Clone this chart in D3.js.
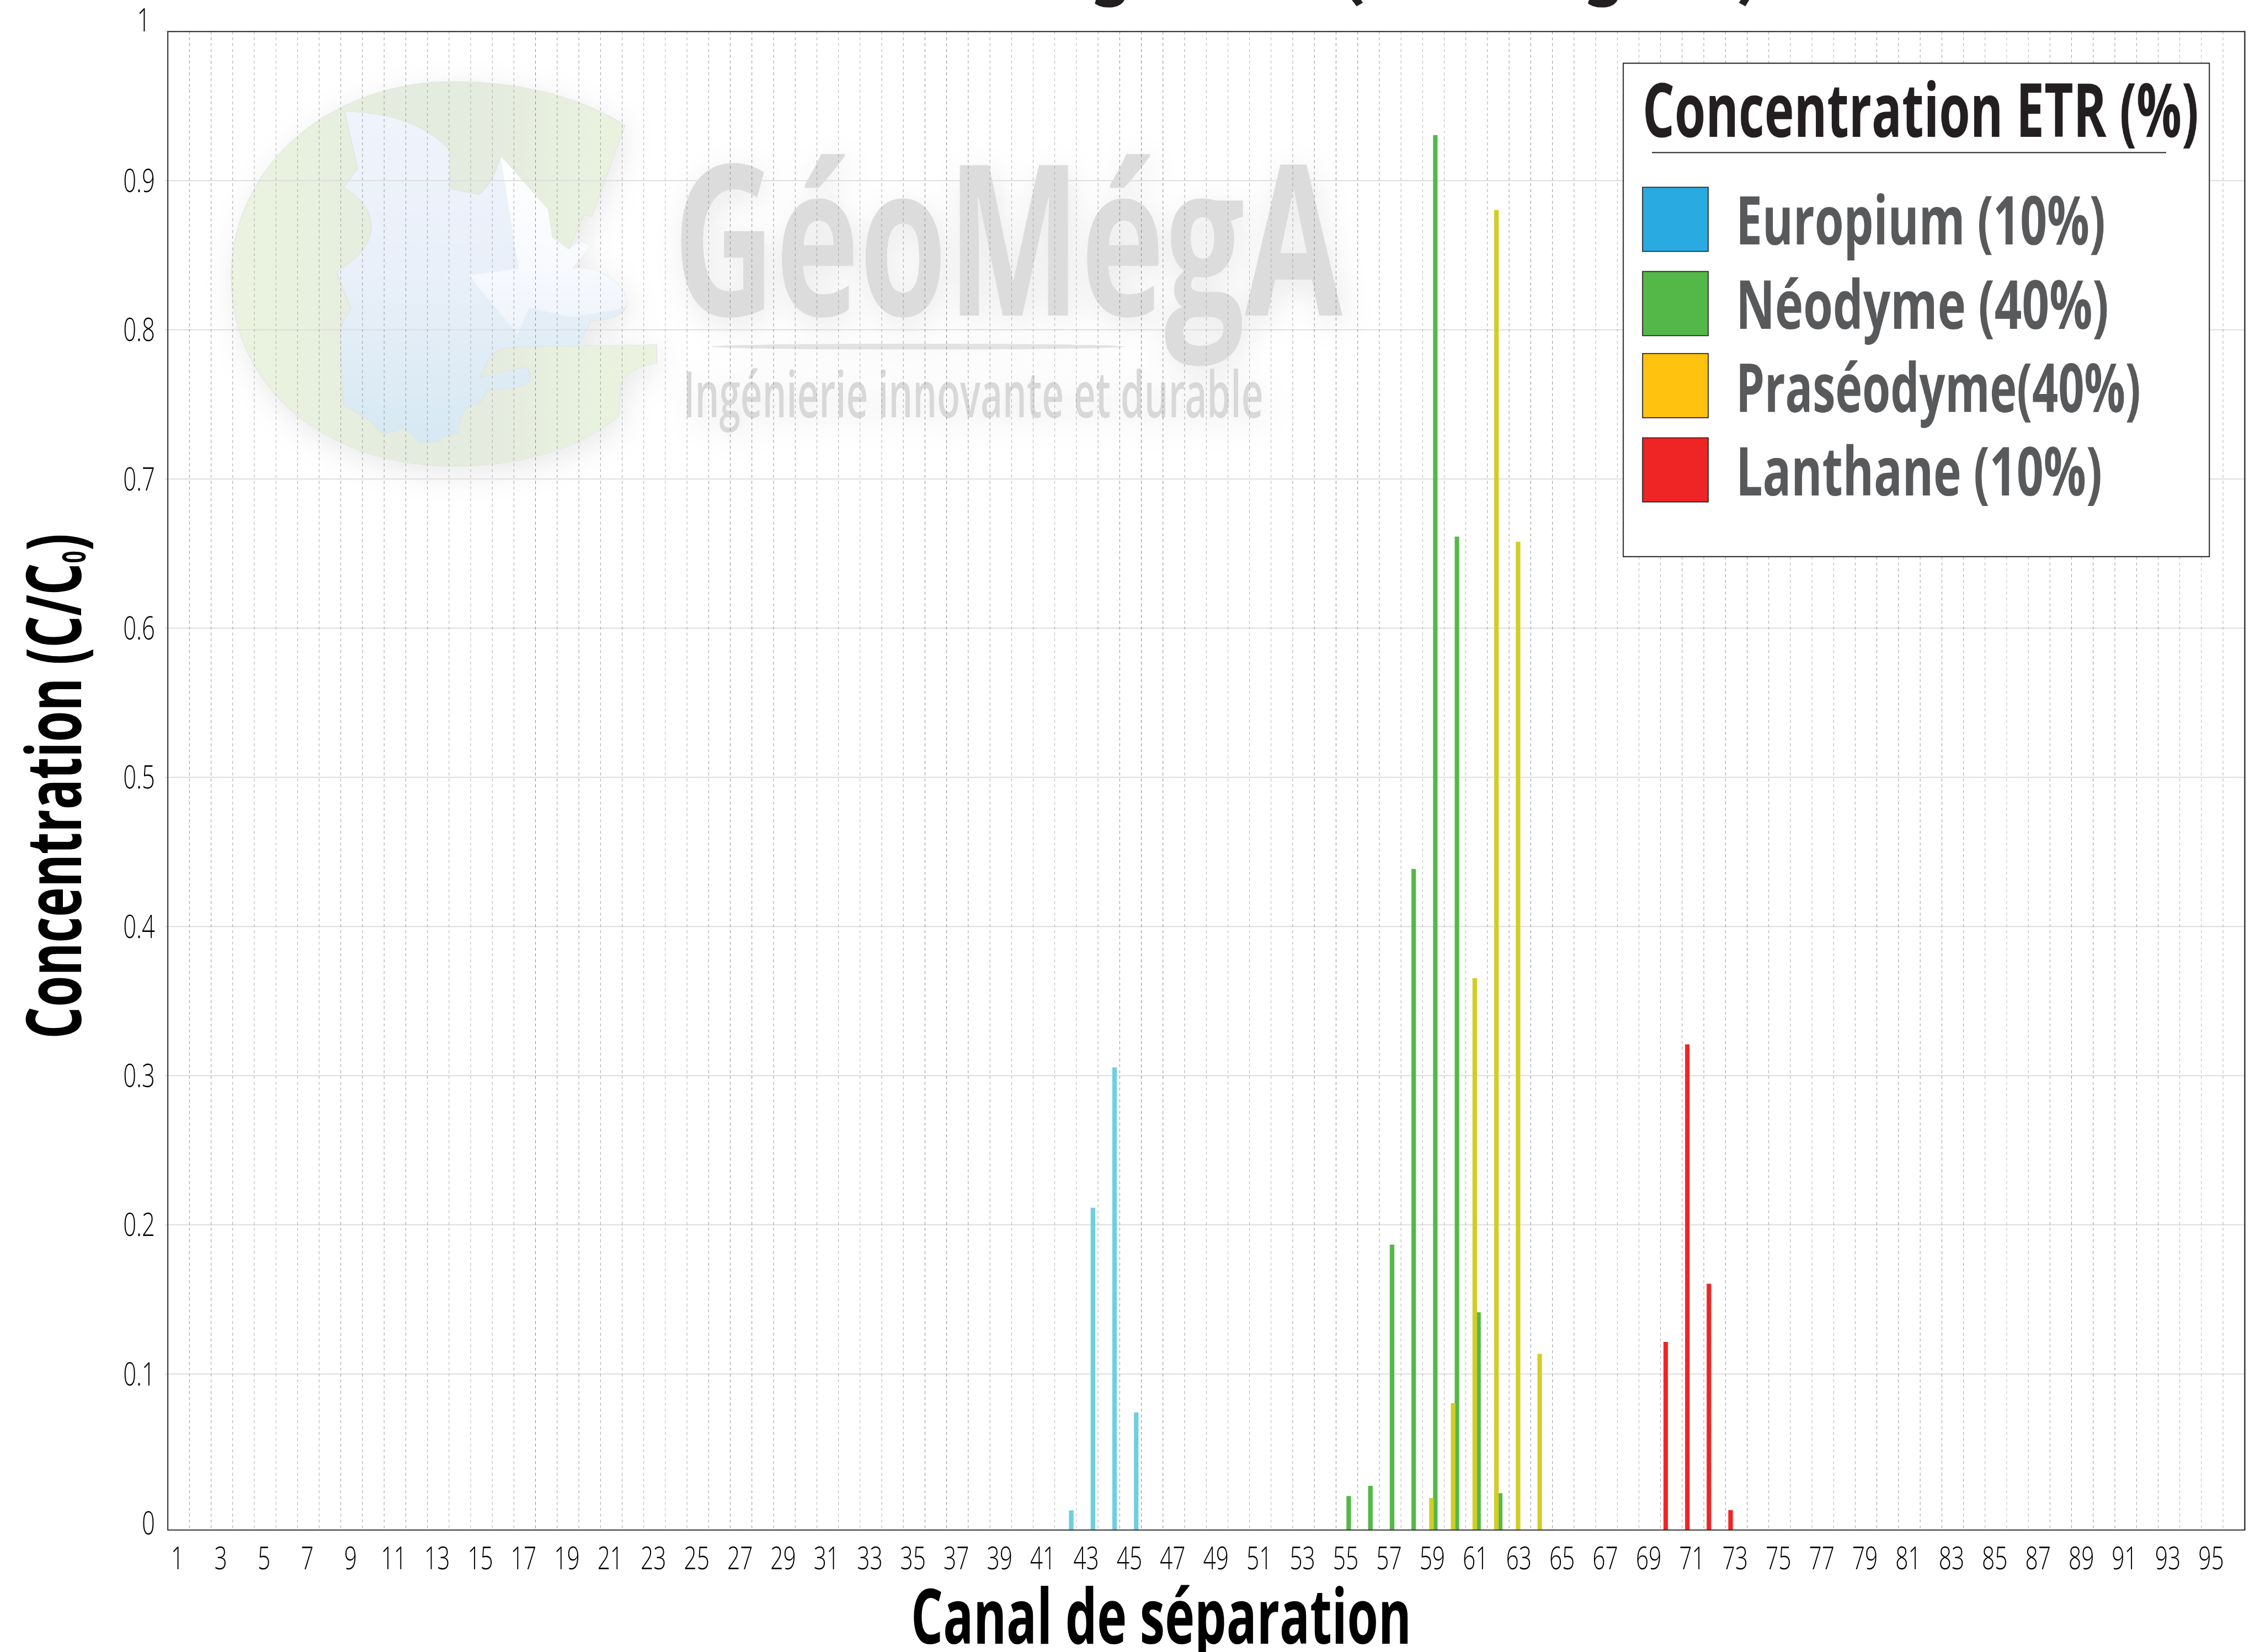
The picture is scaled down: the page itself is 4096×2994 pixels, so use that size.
<!DOCTYPE html>
<html><head><meta charset="utf-8">
<script src="https://cdn.jsdelivr.net/npm/d3@7"></script>
<style>html,body{margin:0;padding:0;background:#fff;overflow:hidden}svg{display:block;will-change:transform}</style>
</head><body><div id="c"></div>
<script>
// ---- data ----
const channels = d3.range(1, 97);
const xTickLabels = channels.filter(c => c % 2 === 1);
const yTickLabels = [0, 0.1, 0.2, 0.3, 0.4, 0.5, 0.6, 0.7, 0.8, 0.9, 1];
const seriesNames = ["Europium", "Néodyme", "Praséodyme", "Lanthane"];
const legendLabels = ["Europium (10%)", "Néodyme (40%)", "Praséodyme(40%)", "Lanthane (10%)"];
const legendWidths = [999, 1008, 1096, 990];
const barColors = ["#6fcee0", "#54b848", "#d2cd26", "#ee2524"];
const swatchColors = ["#29abe2", "#54b848", "#ffc20e", "#ee2524"];
const europium = [[42, 0.0085], [43, 0.2115], [44, 0.3055], [45, 0.0742]];
const neodyme = [[55, 0.0182], [56, 0.0250], [57, 0.1867], [58, 0.4386], [59, 0.9306], [60, 0.6614], [61, 0.1414], [62, 0.0200]];
const praseodyme = [[59, 0.0169], [60, 0.0805], [61, 0.3654], [62, 0.8804], [63, 0.6580], [64, 0.1135]];
const lanthane = [[70, 0.1215], [71, 0.3210], [72, 0.1605], [73, 0.0088]];
const seriesValues = [europium, neodyme, praseodyme, lanthane];

// ---- layout (reference pixels; viewBox scales to 0.66) ----
const W = 6197, H = 4529;
const L = 460, R = 6155, T = 86, B = 4195, Y0 = 4176, Y1 = 86;
const FONT = "'Open Sans','Noto Sans',sans-serif";

const svg = d3.select("#c").append("svg")
  .attr("width", 4096).attr("height", 2994).attr("viewBox", `0 0 ${W} ${H}`);
svg.append("rect").attr("width", W).attr("height", H).attr("fill", "#fff");

const x = d3.scaleBand().domain(channels).range([L, R]).paddingInner(0.3).paddingOuter(0.15);
const sub = d3.scaleBand().domain(seriesNames.slice().reverse()).range([0, x.bandwidth()]);
const yUnit = Y0 - Y1;
const y = d3.scaleLinear().domain([(Y0 - B) / yUnit, 1]).range([B, Y1]);
const yFloor = y.domain()[0];

// ---- defs ----
const defs = svg.append("defs");
const blur = defs.append("filter").attr("id", "wm").attr("filterUnits", "userSpaceOnUse")
  .attr("x", 300).attr("y", 100).attr("width", 3700).attr("height", 1400);
blur.append("feDropShadow").attr("dx", 10).attr("dy", 20).attr("stdDeviation", 42)
  .attr("flood-color", "#000").attr("flood-opacity", 0.09);
const gGreen = defs.append("linearGradient").attr("id", "gGreen");
[[0, "#ecf4e0"], [0.45, "#e4ebdf"], [0.6, "#e5ecdf"], [1, "#ecf4e0"]].forEach(s =>
  gGreen.append("stop").attr("offset", s[0]).attr("stop-color", s[1]));
const gBlue = defs.append("linearGradient").attr("id", "gBlue").attr("x1", 0).attr("x2", 0).attr("y1", 0).attr("y2", 1);
[[0, "#f0f4fc"], [0.5, "#e9f0f9"], [1, "#d7e9f3"]].forEach(s =>
  gBlue.append("stop").attr("offset", s[0]).attr("stop-color", s[1]));
const gWhite = defs.append("linearGradient").attr("id", "gWhite").attr("x1", 0).attr("x2", 0).attr("y1", 0).attr("y2", 1);
[[0, "#ffffff"], [0.6, "#f8fafe"], [1, "#eef3fb"]].forEach(s =>
  gWhite.append("stop").attr("offset", s[0]).attr("stop-color", s[1]));

// ---- fit helper: squeeze a start-anchored text to a target advance width ----
function fitted(parent, str, tx, ty, size, weight, color, width, rot) {
  const g = parent.append("g").attr("transform", `translate(${tx},${ty})` + (rot ? ` rotate(${rot})` : ""));
  const t = g.append("text").attr("font-family", FONT).attr("font-size", size)
    .attr("font-weight", weight).attr("fill", color).text(str);
  t.attr("transform", `scale(${width / t.node().getComputedTextLength()},1)`);
  return t;
}

// ---- watermark logo (decoration) ----
const wm = svg.append("g").attr("filter", "url(#wm)");
const logo = wm.append("g").attr("transform", `scale(${1 / 0.784},${1 / 1.12})`)
  .attr("stroke", "#dfe2e2").attr("stroke-width", 1.5);
logo.append("path").attr("fill", "url(#gGreen)").attr("d",
  "M1344,385 C1240,290 1110,250 975,250 C700,250 497,520 497,850 C497,1190 700,1432 975,1432 C1120,1432 1240,1380 1330,1280 L1335,1180 C1345,1140 1375,1125 1412,1115 L1412,1058 L1100,1065 L1222,765 L1255,660 L1272,665 Z");
logo.append("path").attr("fill", "url(#gBlue)").attr("d",
  "M741,342 C850,345 920,390 967,460 L967,580 L1030,597 C1060,560 1070,510 1076,478 L1178,642 L1187,728 L1222,765 L1245,742 C1262,748 1270,752 1268,757 L1230,825 C1290,810 1350,880 1348,935 C1345,965 1310,985 1270,985 L1245,1062 L1100,1065 C1060,1070 1050,1100 1032,1158 C1070,1150 1110,1125 1135,1130 L1142,1168 C1115,1195 1080,1197 1050,1195 L1027,1243 C1000,1235 990,1270 985,1330 C960,1335 945,1340 945,1357 L902,1358 L872,1315 C850,1320 830,1340 815,1325 L795,1290 L738,1245 L731,1020 C732,1000 745,965 755,948 L723,835 C770,790 800,750 798,690 C795,640 770,600 738,575 L769,518 Z");
logo.append("path").attr("fill", "url(#gWhite)").attr("stroke", "none").attr("d",
  "M1076,478 L1178,642 L1187,728 L1222,765 L1245,742 C1262,748 1270,752 1268,757 L1230,825 C1290,810 1350,880 1348,935 C1345,945 1330,950 1310,955 L1228,973 L1137,945 L1113,1028 L1008,845 L1115,825 Z");
fitted(wm, "GéoMégA", 1845, 865, 578, 700, "#dcdcdc", 1836);
wm.append("ellipse").attr("cx", 2517).attr("cy", 950).attr("rx", 566).attr("ry", 8).attr("fill", "#e2e2e2");
fitted(wm, "Ingénierie innovante et durable", 1874, 1144, 176, 600, "#d8d8d8", 1590);

// ---- grid ----
const hGrid = svg.append("g");
hGrid.selectAll("line").data(yTickLabels.filter(v => v > 0)).join("line")
  .attr("x1", L - 7).attr("x2", R).attr("y1", d => y(d)).attr("y2", d => y(d))
  .attr("stroke", "#dedede").attr("stroke-width", 3.2);
const vGrid = svg.append("g");
vGrid.selectAll("line").data(channels.slice(1)).join("line")
  .attr("x1", d => x(d) - x.step() * x.paddingInner() / 2)
  .attr("x2", d => x(d) - x.step() * x.paddingInner() / 2)
  .attr("y1", T).attr("y2", B)
  .attr("stroke", "#8a8a8a").attr("stroke-width", 1.2).attr("stroke-dasharray", "8 8");

// ---- bars ----
seriesNames.forEach((name, i) => {
  svg.append("g").selectAll("rect").data(seriesValues[i]).join("rect")
    .attr("x", d => x(d[0]) + sub(name) - 1)
    .attr("width", sub.bandwidth() + 2)
    .attr("y", d => y(d[1]))
    .attr("height", d => y(yFloor) - y(d[1]))
    .attr("fill", barColors[i]);
});

// ---- frame ----
svg.append("rect").attr("x", L).attr("y", T).attr("width", R - L).attr("height", B - T)
  .attr("fill", "none").attr("stroke", "#2b2a2b").attr("stroke-width", 3.2);

// ---- axes ----
const xAxis = svg.append("g").attr("transform", `translate(0,${B})`)
  .call(d3.axisBottom(x).tickValues(xTickLabels).tickSize(0));
xAxis.select(".domain").remove();
xAxis.selectAll("text").attr("font-family", FONT).attr("font-size", 85.5).attr("font-weight", 300)
  .attr("fill", "#000").attr("y", 108).attr("dy", 0).attr("transform", "translate(-3,0) scale(0.72,1)");
const yAxis = svg.append("g").attr("transform", `translate(${L},0)`)
  .call(d3.axisLeft(y).tickValues(yTickLabels).tickSize(0).tickFormat(d3.format("~g")).offset(0));
yAxis.select(".domain").remove();
yAxis.selectAll("text").attr("font-family", FONT).attr("font-size", 88).attr("font-weight", 300)
  .attr("fill", "#000").attr("x", 0).attr("dy", 0)
  .attr("transform", d => `translate(${d === 1 ? -48 : -35},${d === 1 ? 0 : 31}) scale(0.72,1)`);

// ---- axis titles ----
fitted(svg, "Canal de séparation", 2498, 4507, 210, 700, "#000", 1372);
const yt = svg.append("g").attr("transform", "translate(222,2848) rotate(-90)");
const ytt = yt.append("text").attr("font-family", FONT).attr("font-size", 210).attr("font-weight", 700).attr("fill", "#000");
ytt.append("tspan").text("Concentration (C/C");
ytt.append("tspan").attr("font-size", 90).attr("dy", 12).text("0");
ytt.append("tspan").attr("dy", -12).text(")");
ytt.attr("transform", `scale(${1385 / ytt.node().getComputedTextLength()},1)`);

// ---- title descenders: the title itself is cropped out of the picture ----
svg.append("g").attr("fill", "#231f20").selectAll("path").data([
  "M3005,0 L3002,9 C3012,17 3025,20 3041,20 C3065,20 3078,10 3083,0 Z",
  "M3707,0 L3720,17 L3737,7 L3732,0 Z",
  "M4357,0 L4354,9 C4364,17 4378,20 4394,20 C4418,20 4430,10 4435,0 Z",
  "M4773,0 L4768,7 L4786,17 L4796,0 Z"
]).join("path").attr("d", d => d);

// ---- legend ----
const lg = svg.append("g");
lg.append("rect").attr("x", 4451).attr("y", 173).attr("width", 1607).attr("height", 1353)
  .attr("fill", "#fff").attr("stroke", "#231f20").attr("stroke-width", 3);
fitted(lg, "Concentration ETR (%)", 4504, 375, 205, 700, "#231f20", 1525);
lg.append("line").attr("x1", 4530).attr("x2", 5940).attr("y1", 418).attr("y2", 418)
  .attr("stroke", "#231f20").attr("stroke-width", 3);
const swatchTops = [513, 744, 969, 1200];
const labelBase = [670, 901, 1129, 1358];
lg.selectAll("rect.sw").data(swatchColors).join("rect").attr("class", "sw")
  .attr("x", 4504).attr("y", (d, i) => swatchTops[i]).attr("width", 180).attr("height", 176)
  .attr("fill", d => d).attr("stroke", "#231f20").attr("stroke-width", 2.5);
legendLabels.forEach((s, i) => fitted(lg, s, 4760, labelBase[i], 185, 700, "#58595b", legendWidths[i] + 14));
</script></body></html>
